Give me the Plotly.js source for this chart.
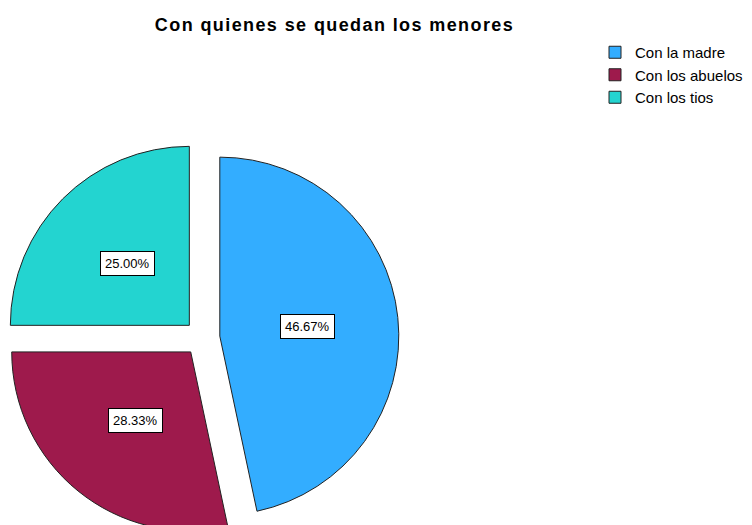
<!DOCTYPE html>
<html><head><meta charset="utf-8">
<script src="https://cdn.plot.ly/plotly-3.0.1.min.js"></script>
<style>
html,body{margin:0;padding:0;overflow:hidden;background:#fff;width:752px;height:525px}
#chart .gtitle{letter-spacing:1.4px}
</style>
</head><body><div id="chart" style="width:752px;height:560px"></div>
<script>
// ---- data ----
const categories = ['Con la madre', 'Con los abuelos', 'Con los tios'];
const percentages = [46.67, 28.33, 25.00];
const sliceColors = ['#33adff', '#9e1a4c', '#23d4d0'];
const chartTitle = 'Con quienes se quedan los menores';

// ---- layout geometry (pixels) ----
const W = 752, H = 560;
const cx = 202, cy = 338, R = 179, pull = 0.1;
const half = R * (1 + pull);
const domX = [(cx - half) / W, (cx + half) / W];
const domY = [1 - (cy + half) / H, 1 - (cy - half) / H];

// label boxes placed along each slice's mid-angle
const total = percentages.reduce((a, b) => a + b, 0);
let cum = 0;
const annotations = percentages.map((v) => {
  const mid = (cum + v / 2) / total * 2 * Math.PI;
  cum += v;
  const d = 0.59 * R;
  const px = cx + d * Math.sin(mid);
  const py = cy - d * Math.cos(mid);
  return {
    x: px / W, y: 1 - py / H, xref: 'paper', yref: 'paper',
    text: v.toFixed(2) + '%', showarrow: false,
    xanchor: 'center', yanchor: 'middle',
    font: {family: 'Liberation Sans, Arial, sans-serif', size: 13, color: '#000'},
    bgcolor: '#ffffff', bordercolor: '#000000', borderwidth: 1, borderpad: 4
  };
});

const trace = {
  type: 'pie',
  labels: categories,
  values: percentages,
  sort: false,
  direction: 'clockwise',
  rotation: 0,
  pull: categories.map(() => pull),
  marker: {colors: sliceColors, line: {color: '#222222', width: 1}},
  textinfo: 'none',
  hoverinfo: 'label+percent',
  domain: {x: domX, y: domY}
};

const layout = {
  width: W, height: H,
  margin: {l: 0, r: 0, t: 0, b: 0},
  paper_bgcolor: '#ffffff',
  title: {
    text: '<b>' + chartTitle + '</b>',
    x: 334.5 / W, xanchor: 'center', xref: 'paper',
    y: 1 - 25 / H, yanchor: 'middle', yref: 'container',
    font: {family: 'Liberation Sans, Arial, sans-serif', size: 18, color: '#000'}
  },
  showlegend: true,
  legend: {
    x: 595 / W, xanchor: 'left', y: 1 - 36 / H, yanchor: 'top',
    font: {family: 'Liberation Sans, Arial, sans-serif', size: 15, color: '#000'},
    traceorder: 'normal', bgcolor: 'rgba(0,0,0,0)'
  },
  annotations: annotations
};

Plotly.newPlot('chart', [trace], layout, {displayModeBar: false, staticPlot: true});
</script>
</body></html>
